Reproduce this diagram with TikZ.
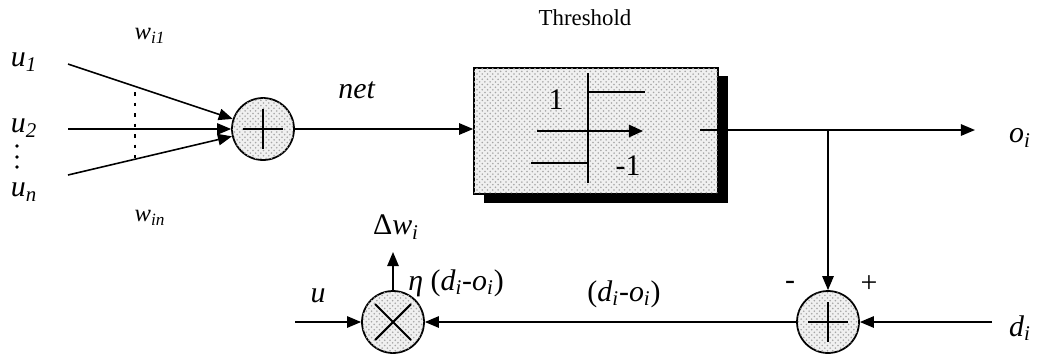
\documentclass[tikz,border=0pt]{standalone}
\usepackage{fontspec}
\setmainfont{Liberation Serif}
\usetikzlibrary{arrows.meta,patterns}
\newcommand{\vsub}[2]{\textit{#1}\textsubscript{\textit{#2}}}
\begin{document}
\begin{tikzpicture}[x=0.02cm,y=-0.02cm,
  wire/.style={line width=0.9pt},
  arr/.style={wire,-{Triangle[length=8pt,width=6.5pt]}},
  dotfill/.style={fill=gray!12,postaction={pattern=crosshatch dots,pattern color=gray!70}},
  junction/.style={circle,draw,line width=1pt,minimum size=1.24cm,inner sep=0pt,dotfill},
  lbl/.style={inner sep=0pt,font=\fontsize{17}{19}\selectfont},
  slbl/.style={inner sep=0pt,font=\fontsize{14}{16}\selectfont}]
\useasboundingbox (0,0) rectangle (1037,356);
% input labels
\node[lbl] (u1) at (24,62) {\vsub{u}{1}};
\node[lbl] (u2) at (24,128) {\vsub{u}{2}};
\node[lbl] (un) at (24,192) {\vsub{u}{n}};
\foreach \yy in {146,157,167} \fill (17,\yy) circle (1.1pt);
\node[slbl] (w1) at (150,36) {\vsub{w}{i1}};
\node[slbl] (wn) at (150,218) {\vsub{w}{in}};
% summation
\node[junction] (sum1) at (263,129) {};
\draw[line width=1.2pt] ([xshift=-0.4cm]sum1.center) -- ([xshift=0.4cm]sum1.center)
  ([yshift=-0.4cm]sum1.center) -- ([yshift=0.4cm]sum1.center);
\coordinate (a1) at (68,64);
\coordinate (a2) at (68,129);
\coordinate (an) at (68,175);
\draw[arr] (a1) -- (sum1);
\draw[arr] (a2) -- (sum1);
\draw[arr] (an) -- (sum1);
\draw[line width=1.3pt,dash pattern=on 2pt off 4pt] (135,92) -- (135,158);
% threshold box
\fill[black] (484,76) rectangle (728,203);
\node[draw,line width=1pt,dotfill,minimum width=4.88cm,minimum height=2.52cm,inner sep=0pt] (box) at (596,131) {};
\node[slbl,font=\fontsize{13}{15}\selectfont] (thr) at (585,18) {Threshold};
\draw[arr] (sum1) -- (box.west |- sum1);
\node[lbl] (net) at (357,90) {\textit{net}};
\draw[line width=1.2pt] (588,73) -- (588,183);
\draw[line width=1.2pt,-{Triangle[length=8pt,width=7pt]}] (537,131) -- (643,131);
\draw[line width=1.2pt] (588,92) -- (645,92) (531,163) -- (588,163);
\node[lbl] (one) at (556,100) {1};
\node[lbl] (mone) at (628,166) {-1};
% output
\coordinate (bo) at (700,130);
\coordinate (br) at (828,130);
\coordinate (oend) at (975,130);
\draw[wire] (bo) -- (br);
\draw[arr] (br) -- (oend);
\node[lbl] (oi) at (1020,138) {\vsub{o}{i}};
% error summation
\node[junction] (sum2) at (828,322) {};
\draw[line width=1.2pt] ([xshift=-0.4cm]sum2.center) -- ([xshift=0.4cm]sum2.center)
  ([yshift=-0.4cm]sum2.center) -- ([yshift=0.4cm]sum2.center);
\draw[arr] (br) -- (sum2);
\node[lbl] (minus) at (790,285) {-};
\node[lbl] (plus) at (869,284) {+};
\coordinate (din) at (992,322);
\draw[arr] (din) -- (sum2);
\node[lbl] (di) at (1020,328) {\vsub{d}{i}};
% multiplier
\node[junction] (mul) at (393,322) {};
\draw[line width=1.2pt] ([shift={(-0.36cm,-0.36cm)}]mul.center) -- ([shift={(0.36cm,0.36cm)}]mul.center)
  ([shift={(-0.36cm,0.36cm)}]mul.center) -- ([shift={(0.36cm,-0.36cm)}]mul.center);
\draw[arr] (sum2) -- (mul);
\coordinate (uin) at (295,322);
\draw[arr] (uin) -- (mul);
\node[lbl] (u) at (318,296) {\textit{u}};
\coordinate (dwt) at (393,252);
\draw[arr] (mul) -- (dwt);
\node[lbl] (dw) at (396,227) {Δ\vsub{w}{i}};
\node[lbl] (eta) at (456,283) {\textit{η} (\vsub{d}{i}-\vsub{o}{i})};
\node[lbl] (err) at (624,294) {(\vsub{d}{i}-\vsub{o}{i})};
\end{tikzpicture}
\end{document}
